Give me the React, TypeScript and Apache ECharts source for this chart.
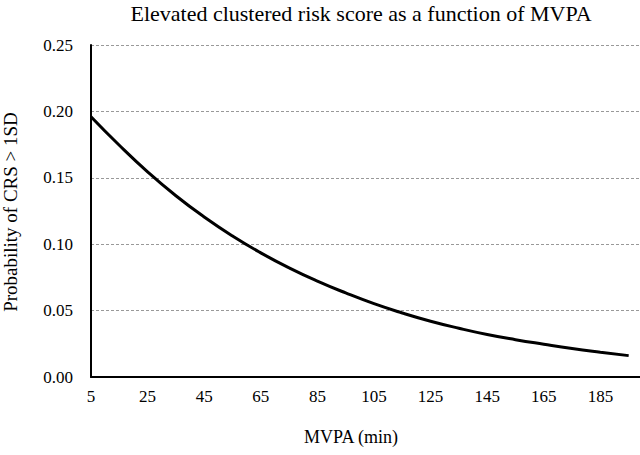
import React, { useEffect, useRef } from "react";
import * as echarts from "echarts";

const titleText = "Elevated clustered risk score as a function of MVPA";
const xName = "MVPA (min)";
const yName = "Probability of CRS > 1SD";
const mvpa = [5, 15, 25, 35, 45, 55, 65, 75, 85, 95, 105, 115, 125, 135, 145, 155, 165, 175, 185, 195];
const probability = [0.196, 0.1745, 0.1545, 0.1365, 0.1205, 0.1062, 0.0935, 0.0822, 0.0722, 0.0633, 0.0552, 0.0482, 0.042, 0.0367, 0.032, 0.0281, 0.0247, 0.0215, 0.0187, 0.0161];

const FONT = "Liberation Serif";

export default function App() {
  const ref = useRef<HTMLDivElement>(null);
  useEffect(() => {
    if (!ref.current) return;
    const chart = echarts.init(ref.current, null, { renderer: "svg" });
    chart.setOption({
      animation: false,
      backgroundColor: "#ffffff",
      textStyle: { fontFamily: FONT, color: "#000" },
      grid: { left: 91, right: 0, top: 45, bottom: 78, containLabel: false },
      graphic: [
        {
          type: "text",
          x: 361,
          y: 13,
          style: { text: titleText, fontFamily: FONT, fontSize: 22, fill: "#000", align: "center", verticalAlign: "middle" },
        },
        {
          type: "text",
          x: 351,
          y: 437,
          style: { text: xName, fontFamily: FONT, fontSize: 18, fill: "#000", align: "center", verticalAlign: "middle" },
        },
        {
          type: "text",
          x: 10,
          y: 212,
          rotation: Math.PI / 2,
          style: { text: yName, fontFamily: FONT, fontSize: 19, fill: "#000", align: "center", verticalAlign: "middle" },
        },
      ],
      xAxis: {
        type: "value",
        min: 5,
        max: 199,
        interval: 20,
        axisLine: { show: true, lineStyle: { color: "#000", width: 2 } },
        axisTick: { show: false },
        splitLine: { show: false },
        axisLabel: { color: "#000", fontSize: 17, fontFamily: FONT, margin: 11, showMaxLabel: false },
      },
      yAxis: {
        type: "value",
        min: 0,
        max: 0.25,
        interval: 0.05,
        axisLine: { show: true, lineStyle: { color: "#000", width: 2 } },
        axisTick: { show: false },
        splitLine: { show: true, lineStyle: { color: "#999", type: [3, 2], width: 1 } },
        axisLabel: {
          color: "#000",
          fontSize: 17,
          fontFamily: FONT,
          margin: 18,
          formatter: (v: number) => v.toFixed(2),
        },
      },
      series: [
        {
          type: "line",
          data: mvpa.map((x, i) => [x, probability[i]]),
          smooth: 0.5,
          showSymbol: false,
          lineStyle: { color: "#000", width: 3 },
        },
      ],
    });
    return () => chart.dispose();
  }, []);
  return <div ref={ref} style={{ width: 640, height: 455, position: "absolute", left: 0, top: 0 }} />;
}
